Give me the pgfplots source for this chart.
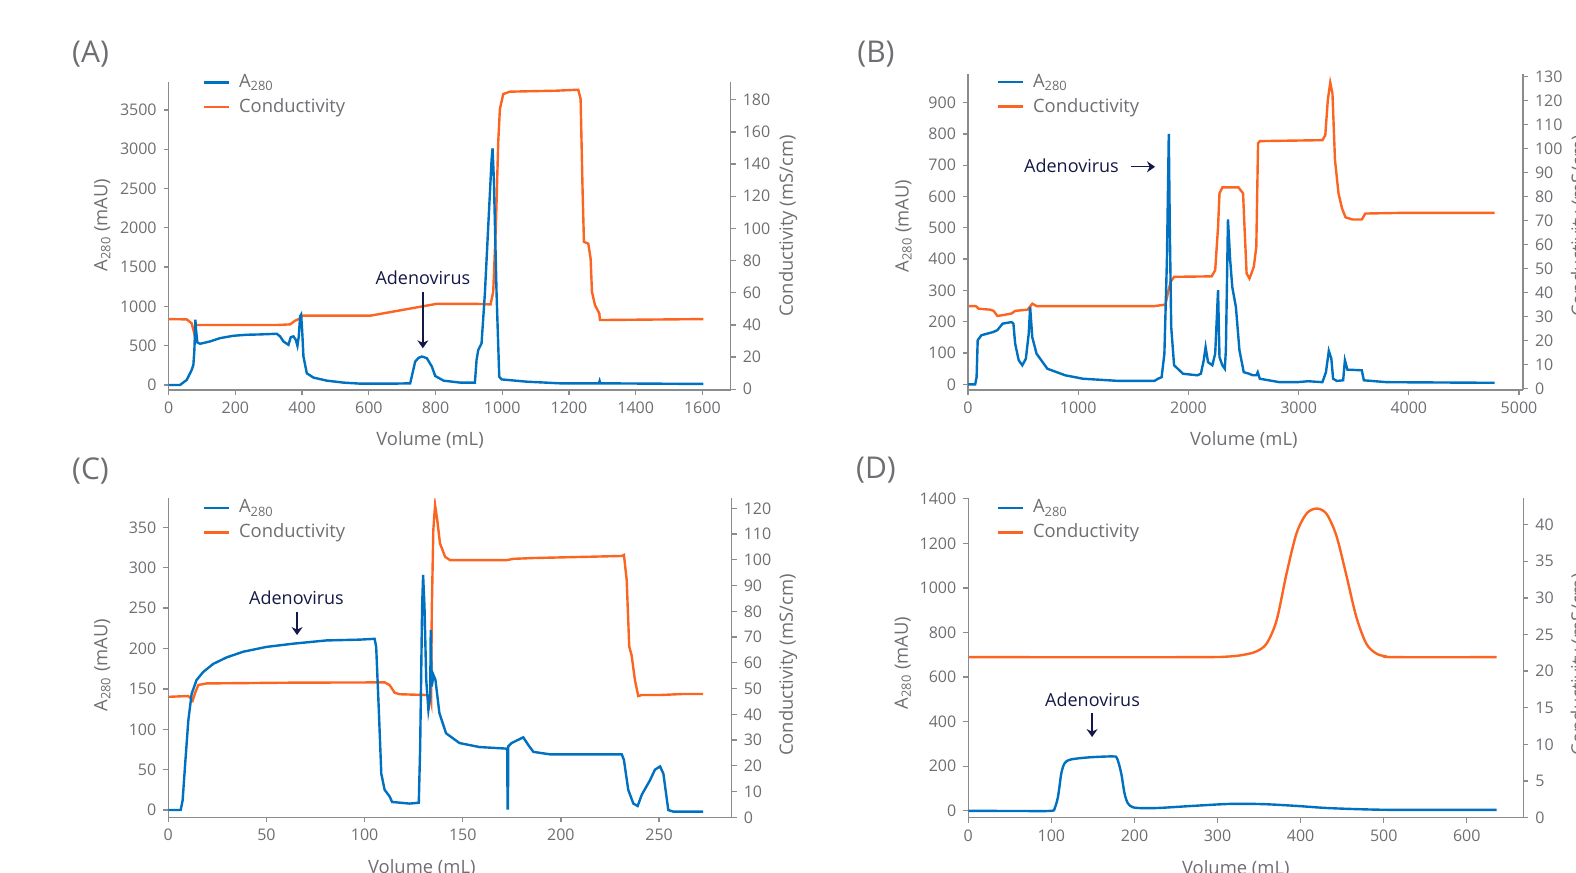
\documentclass[border=0pt]{standalone}
\usepackage{fontspec}
\setmainfont{Open Sans}
\usepackage{pgfplots}
\pgfplotsset{compat=1.18}
\usetikzlibrary{arrows.meta}

\definecolor{cblue}{RGB}{0,112,192}
\definecolor{corange}{RGB}{252,101,33}
\definecolor{ctext}{RGB}{110,110,115}
\definecolor{caxis}{RGB}{140,140,140}
\definecolor{cnavy}{RGB}{20,24,70}

\pgfplotsset{
  chrom/.style={scale only axis, anchor=south west, xmin=0,
    axis line style={-, caxis, line width=0.65pt},
    tick style={caxis, line width=0.65pt}, tick align=outside, major tick length=2.5pt,
    tick label style={font=\fontsize{8}{9.6}\selectfont, text=ctext},
    label style={font=\fontsize{9.2}{11}\selectfont, text=ctext},
    /pgf/number format/assume math mode=true,
    /pgf/number format/set thousands separator={},
    scaled ticks=false},
  leftax/.style={chrom, axis x line*=bottom, axis y line*=left,
    xlabel={Volume (mL)}, ylabel={A\textsubscript{280} (mAU)},
    legend cell align=left,
    legend image code/.code={\draw[##1] (0pt,0pt) -- (12.5pt,0pt);},
    legend style={draw=none, fill=none, inner sep=0pt, anchor=north west, row sep=2pt,
      nodes={inner sep=1pt, text=ctext, font=\fontsize{9.2}{11}\selectfont},
      /tikz/every odd column/.append style={column sep=3.3pt}}},
  rightax/.style={chrom, axis x line=none, axis y line*=right,
    ylabel={Conductivity (mS/cm)}},
  bl/.style={cblue, line width=1.2pt},
  or/.style={corange, line width=1.2pt},
}
\tikzset{
  annot/.style={font=\fontsize{9}{11}\selectfont, text=cnavy},
  arr/.style={cnavy, line width=0.65pt, -{Stealth[length=4pt,width=5.5pt]}},
  panellab/.style={font=\fontsize{15}{18}\selectfont, text=ctext},
}

\begin{document}
\begin{tikzpicture}
\path[use as bounding box] (0pt,0pt) rectangle (788pt,-436.5pt);

\node[panellab] at (45.25pt,-27.3pt) {(A)};
\node[panellab] at (438pt,-27.3pt) {(B)};
\node[panellab] at (45.25pt,-235.3pt) {(C)};
\node[panellab] at (438pt,-235.3pt) {(D)};

% ---------------- (A)
\begin{axis}[rightax, at={(84.35pt,-195pt)}, width=281pt, height=154pt,
  xmax=1685, ymin=-0.5, ymax=191, ytick={0,20,...,180},
  ylabel style={at={(axis description cs:1.102,0.532)}, anchor=center}]
\addplot[or] coordinates {(0,43.6)(54,43.4)(69,40.9)(76,35.1)(82,39.9)(89,39.9)(174,39.9)
  (324,39.9)(364,40.3)(379,42.6)(394,44)(402,45.7)(474,45.7)(604,45.7)(704,49.4)(804,53.1)
  (934,53)(965,52.7)(973,60.6)(981,101.9)(988,153.6)(993,174.2)(1003,183.5)(1023,185)
  (1163,185.6)(1228,186.2)(1235,180.4)(1241,122.5)(1245,91.6)(1258,90.5)(1265,81.2)
  (1269,60.6)(1278,52.3)(1291,47.1)(1293,43)(1603,43.6)};
\end{axis}
\begin{axis}[leftax, at={(84.35pt,-195pt)}, width=281pt, height=154pt,
  xmax=1685, ymin=-64, ymax=3855, xtick={0,200,...,1600}, ytick={0,500,...,3500},
  xlabel style={at={(axis description cs:0.465,0)}, anchor=center, yshift=-24.8pt},
  ylabel style={at={(axis description cs:-0.118,0.536)}, anchor=center},
  legend style={at={(axis description cs:0.0605,1.033)}}]
\addplot[bl] coordinates {(0,0)(34,0)(54,64)(69,192)(74,256)(77,447)(80,830)(82,700)(86,541)
  (94,524)(124,554)(154,596)(194,626)(234,639)(274,643)(324,652)(334,618)(344,554)(359,511)
  (366,609)(374,618)(381,575)(386,498)(390,618)(394,873)(397,895)(400,703)(404,362)(414,149)
  (434,94)(474,55)(524,30)(574,17)(674,17)(724,21)(731,149)(739,298)(749,345)(759,362)
  (774,341)(789,234)(799,115)(824,55)(874,30)(918,29)(921,200)(923,318)(928,445)(938,530)
  (948,1166)(958,2014)(968,2862)(971,3011)(975,2600)(983,1167)(991,106)(998,71)(1073,42)
  (1173,21)(1290,21)(1292,50)(1294,21)(1603,13)};
\addlegendentry{A\textsubscript{280}}
\addlegendimage{or}
\addlegendentry{Conductivity}
\node[annot] at (axis cs:762,1368) {Adenovirus};
\draw[arr] (axis cs:762,1187) -- (axis cs:762,467);
\end{axis}

% ---------------- (B)
\begin{axis}[rightax, at={(484pt,-195pt)}, width=277.5pt, height=158.25pt,
  xmax=5036, ymin=-0.7, ymax=131.3, ytick={0,10,...,130},
  ylabel style={at={(axis description cs:1.103,0.518)}, anchor=center}]
\addplot[or] coordinates {(0,34.3)(71,34.3)(97,33.2)(201,32.8)(233,32.3)(266,30.2)(314,30.5)
  (395,31.2)(428,32.3)(541,32.8)(584,35.3)(622,34.3)(1044,34.3)(1692,34.3)(1790,34.9)
  (1838,44.4)(1870,46.5)(2211,46.7)(2243,49.3)(2269,67.3)(2282,81.3)(2308,83.8)(2454,83.8)
  (2496,81.3)(2509,67.3)(2528,47.9)(2554,45.8)(2593,50.6)(2616,59)(2632,102.2)(2648,103.1)
  (3216,103.5)(3242,105.6)(3265,120.3)(3287,127.5)(3307,123)(3330,95.2)(3362,81.3)(3394,75)
  (3426,71.3)(3491,70.4)(3573,70.4)(3605,72.9)(3961,73.2)(4778,73.2)};
\end{axis}
\begin{axis}[leftax, at={(484pt,-195pt)}, width=277.5pt, height=158.25pt,
  xmax=5036, ymin=-18, ymax=993, xtick={0,1000,...,5000}, ytick={0,100,...,900},
  xlabel style={at={(axis description cs:0.497,0)}, anchor=center, yshift=-24.8pt},
  ylabel style={at={(axis description cs:-0.116,0.518)}, anchor=center},
  legend style={at={(axis description cs:0.0517,1.006)}}]
\addplot[bl] coordinates {(0,0)(65,0)(78,23)(88,141)(122,157)(227,167)(266,173)(314,194)
  (395,199)(412,194)(428,130)(460,77)(493,61)(525,82)(551,162)(564,247)(583,151)(622,98)
  (720,50)(882,29)(1044,18)(1368,11)(1692,11)(1724,18)(1757,23)(1782,98)(1805,397)
  (1822,800)(1831,503)(1844,183)(1870,61)(1951,34)(2081,29)(2113,34)(2139,77)(2156,119)
  (2178,71)(2217,61)(2243,98)(2269,301)(2282,87)(2308,61)(2330,50)(2340,109)(2359,527)
  (2379,397)(2398,311)(2431,247)(2463,109)(2502,39)(2551,34)(2584,29)(2616,29)(2629,39)
  (2648,18)(2827,7)(2989,7)(3086,10)(3216,7)(3248,39)(3274,107)(3297,82)(3313,18)
  (3346,11)(3404,13)(3420,77)(3443,47)(3573,45)(3592,13)(3800,7)(4285,6)(4778,5)};
\addlegendentry{A\textsubscript{280}}
\addlegendimage{or}
\addlegendentry{Conductivity}
\node[annot] at (axis cs:939,697) {Adenovirus};
\draw[arr] (axis cs:1476,695) -- (axis cs:1697,695);
\end{axis}

% ---------------- (C)
\begin{axis}[rightax, at={(84.15pt,-408.65pt)}, width=281.7pt, height=159.5pt,
  xmax=287, ymin=0, ymax=123.9, ytick={0,10,...,120},
  ylabel style={at={(axis description cs:1.100,0.477)}, anchor=center}]
\addplot[or] coordinates {(0,46.8)(10.2,47.1)(11.4,46.2)(12.4,45.3)(13.6,48.2)(15.3,51.4)
  (19.5,52)(63.6,52.3)(110.2,52.4)(112.7,51.4)(115.3,48.4)(117.8,47.8)(131.4,47.5)
  (133.4,46.8)(133.9,44.9)(134.2,79.2)(135,111.6)(135.9,121.3)(137,115.5)(138.4,106.4)
  (141,101.2)(143.5,99.9)(172.4,99.9)(176,100.4)(186,100.7)(203,101)(231,101.5)
  (232.1,101.9)(233.5,92.2)(234.8,66.3)(236,63)(237.7,53.3)(239.4,47.1)(241.2,47.5)
  (250.5,47.5)(262.4,47.9)(272.5,47.9)};
\end{axis}
\begin{axis}[leftax, at={(84.15pt,-408.65pt)}, width=281.7pt, height=159.5pt,
  xmax=287, ymin=-9, ymax=386, xtick={0,50,...,250}, ytick={0,50,...,350},
  xlabel style={at={(axis description cs:0.45,0)}, anchor=center, yshift=-25.5pt},
  ylabel style={at={(axis description cs:-0.117,0.477)}, anchor=center},
  legend style={at={(axis description cs:0.061,1.003)}}]
\addplot[bl] coordinates {(0,0)(6.3,0)(7.3,12)(8.5,54)(10.2,111)(11.9,144)(14.4,161)
  (17.8,171)(22.9,181)(29.7,189)(38.1,196)(50,202)(63.6,206)(80.5,210)(97.5,211)(105.1,212)
  (105.9,202)(107.3,120)(108.5,45)(110.2,25)(112.7,17)(114,10)(122.9,8)(127.6,9)(128.3,78)
  (129.3,252)(129.8,291)(130.5,252)(131.4,161)(132.5,124)(133.4,140)(133.7,223)(134.2,153)
  (135.1,167)(136.1,161)(138.1,120)(141.5,95)(148.3,83)(158.5,78)(172.7,76)(172.8,2)
  (173.0,2)(173.2,79)(174.9,83)(180.8,90)(183.4,80.5)(186,72)(194.4,69)(231,69)(232.1,62)
  (234.3,25)(236.9,8)(239.1,5)(241.2,19)(245.4,37)(247.9,50)(250.5,54)(252.2,45)(254.7,0)
  (257.3,-2)(272.5,-2)};
\addlegendentry{A\textsubscript{280}}
\addlegendimage{or}
\addlegendentry{Conductivity}
\node[annot] at (axis cs:65.3,263) {Adenovirus};
\draw[arr] (axis cs:65.6,245.5) -- (axis cs:65.6,216.7);
\end{axis}

% ---------------- (D)
\begin{axis}[rightax, at={(484.15pt,-408.75pt)}, width=277.5pt, height=159.6pt,
  xmax=668, ymin=0, ymax=43.6, ytick={0,5,...,40},
  ylabel style={at={(axis description cs:1.102,0.48)}, anchor=center}]
\addplot[or, smooth] coordinates {(0,21.9)(270,21.9)(315,22.0)(335,22.3)(347,22.7)(359,23.75)
  (371,26.9)(383,33.3)(395,38.8)(407,41.5)(419,42.2)(431,41.5)(443,38.5)(455,33.1)(467,27.4)
  (479,23.75)(491,22.4)(503,22.0)(515,21.9)(636,21.9)};
\end{axis}
\begin{axis}[leftax, at={(484.15pt,-408.75pt)}, width=277.5pt, height=159.6pt,
  xmax=668, ymin=-30, ymax=1402, xtick={0,100,...,600}, ytick={0,200,...,1400},
  xlabel style={at={(axis description cs:0.482,0)}, anchor=center, yshift=-25.5pt},
  ylabel style={at={(axis description cs:-0.118,0.484)}, anchor=center},
  legend style={at={(axis description cs:0.051,1.003)}}]
\addplot[bl, smooth] coordinates {(0,0)(70,-1)(100,0)(104,12)(108,64)(112,169)(116,214)
  (122,229)(134,236)(150,241)(174,244)(179,236)(184,169)(188,79)(192,34)(198,16)(210,12)
  (230,13)(270,22)(315,31)(355,30)(395,22)(435,12)(495,5)(560,4)(636,4)};
\addlegendentry{A\textsubscript{280}}
\addlegendimage{or}
\addlegendentry{Conductivity}
\node[annot] at (axis cs:149.5,498) {Adenovirus};
\draw[arr] (axis cs:149,438) -- (axis cs:149,331);
\end{axis}
\end{tikzpicture}
\end{document}
